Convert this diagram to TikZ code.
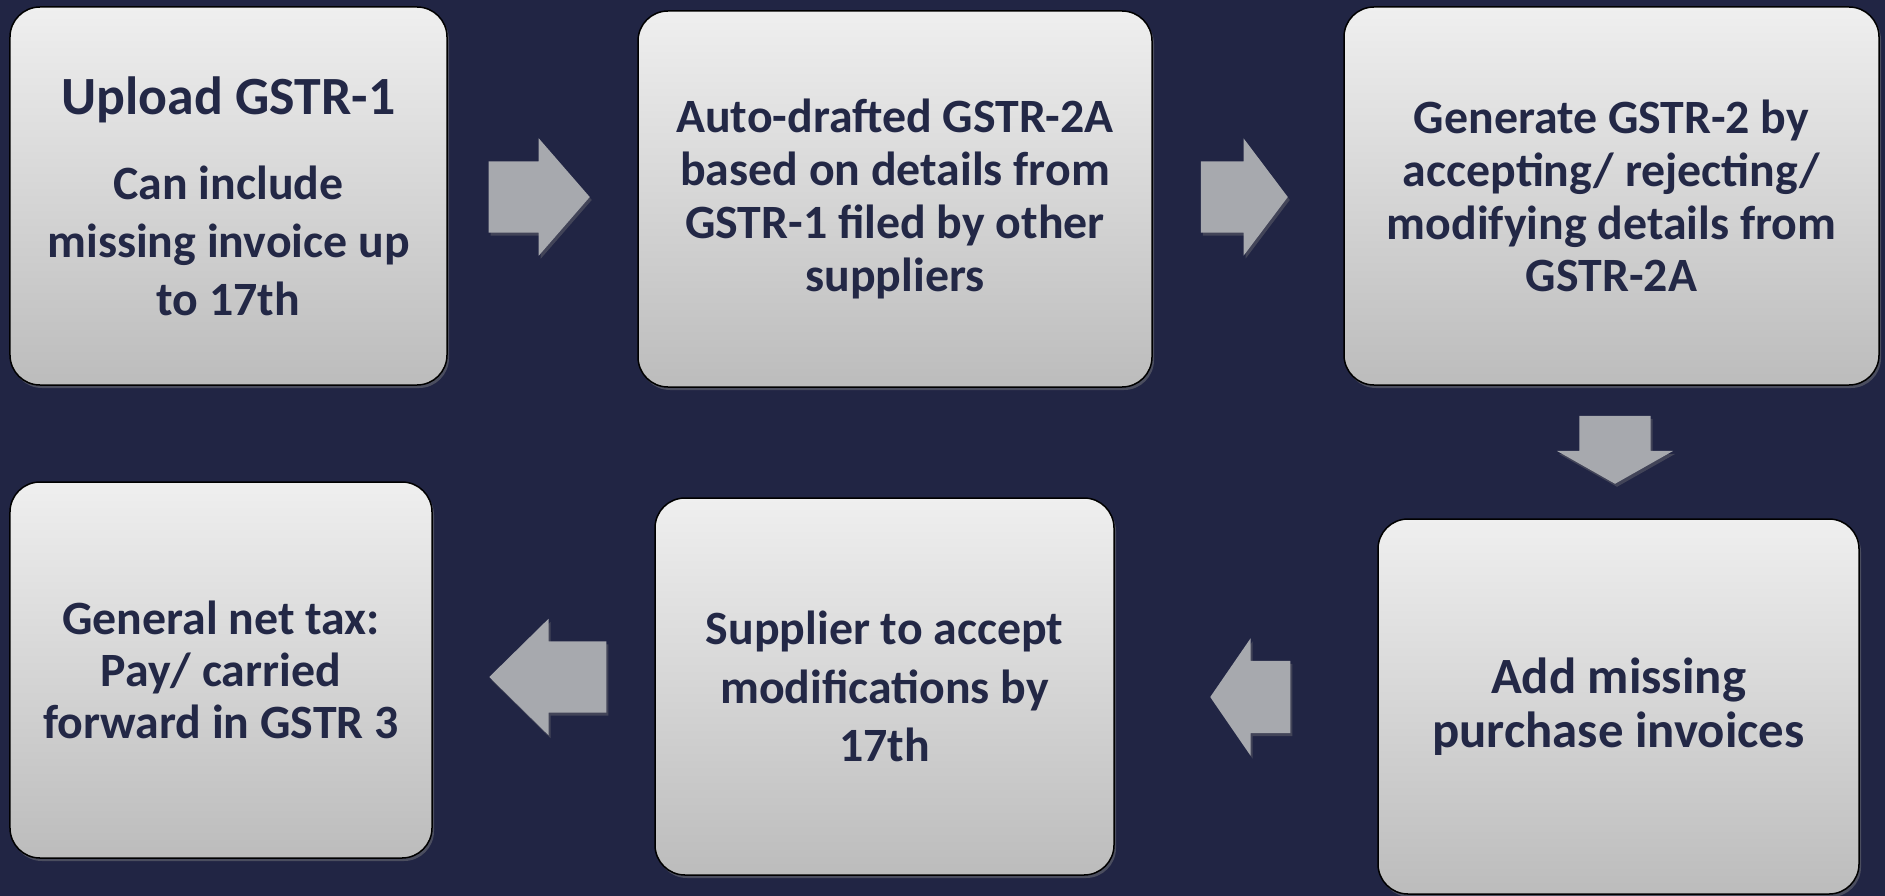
\documentclass[tikz,border=0pt]{standalone}
\usepackage{fontspec}
\setmainfont{Carlito}
\usetikzlibrary{shapes.arrows,shadows}

\definecolor{bgnavy}{HTML}{212544}
\definecolor{txtnavy}{HTML}{232846}
\definecolor{boxtop}{HTML}{EFEFEF}
\definecolor{boxbot}{HTML}{BCBCBC}
\definecolor{arrowgray}{HTML}{A7A9AE}

\tikzset{
  stepbox/.style={draw=black, line width=1.5bp, rounded corners=30bp,
    top color=boxtop, bottom color=boxbot, text=txtnavy, align=center,
    inner sep=0pt, font=\bfseries\fontsize{48}{53}\selectfont,
    drop shadow={shadow xshift=2bp, shadow yshift=-3bp, opacity=0.45}},
  flowarrow/.style n args={4}{single arrow, fill=arrowgray,
    inner xsep=0pt, inner ysep=#2, minimum height=#1,
    single arrow head extend=#3, single arrow tip angle=#4,
    drop shadow={shadow xshift=2bp, shadow yshift=-3bp, opacity=0.35}}
}

\begin{document}
\begin{tikzpicture}[x=1bp,y=-1bp]

\useasboundingbox[fill=bgnavy] (0,0) rectangle (1885,896);

\node[stepbox, minimum width=437bp, minimum height=378bp,
  font=\bfseries\fontsize{48}{58}\selectfont] (upload) at (228.5,196)
  {{\fontsize{54}{58}\selectfont Upload GSTR-1}\\[28bp]
   Can include\\ missing invoice up\\ to 17th};
\node[stepbox, minimum width=514bp, minimum height=376bp] (autodraft) at (895,199)
  {Auto-drafted GSTR-2A\\ based on details from\\ GSTR-1 filed by other\\ suppliers};
\node[stepbox, minimum width=535bp, minimum height=378bp] (generate) at (1611.5,196)
  {Generate GSTR-2 by\\ accepting/ rejecting/\\ modifying details from\\ GSTR-2A};
\node[stepbox, minimum width=481bp, minimum height=375bp,
  font=\bfseries\fontsize{51}{54}\selectfont] (addmissing) at (1618.5,706.5)
  {Add missing\\ purchase invoices};
\node[stepbox, minimum width=459bp, minimum height=377bp,
  font=\bfseries\fontsize{48}{59}\selectfont] (supplier) at (884.5,686.5)
  {Supplier to accept\\ modifications by\\ 17th};
\node[stepbox, minimum width=422bp, minimum height=376bp,
  font=\bfseries\fontsize{48}{52}\selectfont] (nettax) at (221,670)
  {General net tax:\\ Pay/ carried\\ forward in GSTR 3};

\node[flowarrow={101bp}{35.5bp}{23bp}{98}, anchor=tip] (arA) at (590,197) {};
\node[flowarrow={87bp}{35.5bp}{23bp}{106}, anchor=tip] (arB) at (1288,197) {};
\node[flowarrow={68bp}{35.5bp}{22.5bp}{121}, rotate=-90, anchor=tip] (arC) at (1615,484) {};
\node[flowarrow={80bp}{36bp}{22.5bp}{111}, rotate=180, anchor=tip] (arD) at (1210,697) {};
\node[flowarrow={117bp}{35.5bp}{22.5bp}{89}, rotate=180, anchor=tip] (arE) at (489,677) {};

\end{tikzpicture}
\end{document}
